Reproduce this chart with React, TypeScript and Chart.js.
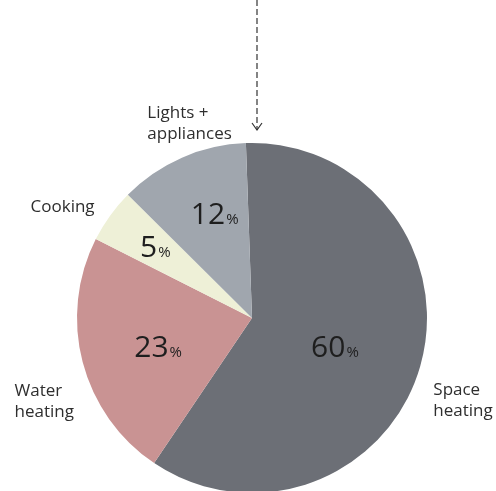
import React, { useEffect, useRef } from "react";
import { Chart, registerables } from "chart.js";

Chart.register(...registerables);

const categories = ["Space heating", "Water heating", "Cooking", "Lights + appliances"];
const shares = [60, 23, 5, 12];
const outerLabelLines = [["Space", "heating"], ["Water", "heating"], ["Cooking"], ["Lights +", "appliances"]];
const sliceColors = ["#6c6f76", "#c99393", "#eef0d7", "#a0a6ae"];

// label placement relative to each slice (radius factor, angle shift in degrees)
const pctRadius = [0.5, 0.56, 0.69, 0.635];
const pctShift = [2.6, -2, 1, 4];
const outerRadiusF = [1.296, 1.28, 1.255, 1.167];
const outerShift = [5.5, -7.4, -5.4, 5.8];

const labelPlugin = {
  id: "sliceLabels",
  afterDraw(chart: any) {
    const ctx = chart.ctx;
    const meta = chart.getDatasetMeta(0);
    ctx.save();
    meta.data.forEach((el: any, i: number) => {
      const p = el.getProps(["x", "y", "startAngle", "endAngle", "outerRadius"], true);
      const mid = (p.startAngle + p.endAngle) / 2;
      // percentage label
      const a1 = mid + (pctShift[i] * Math.PI) / 180;
      const cx = p.x + Math.cos(a1) * p.outerRadius * pctRadius[i];
      const cy = p.y + Math.sin(a1) * p.outerRadius * pctRadius[i];
      const num = String(shares[i]);
      ctx.font = '30px "Open Sans"';
      const wNum = ctx.measureText(num).width;
      ctx.font = '15px "Open Sans"';
      const wPct = ctx.measureText("%").width;
      const total = wNum + wPct + 1;
      const left = cx - total / 2;
      const base = cy + 11;
      ctx.fillStyle = "#1e1e1e";
      ctx.textAlign = "left";
      ctx.textBaseline = "alphabetic";
      ctx.font = '30px "Open Sans"';
      ctx.fillText(num, left, base);
      ctx.font = '15px "Open Sans"';
      ctx.fillText("%", left + wNum + 1, base);

      // outer category label
      const a2 = mid + (outerShift[i] * Math.PI) / 180;
      const ox = p.x + Math.cos(a2) * p.outerRadius * outerRadiusF[i];
      const oy = p.y + Math.sin(a2) * p.outerRadius * outerRadiusF[i];
      ctx.font = '17px "Open Sans"';
      ctx.fillStyle = "#2e2e2e";
      ctx.textBaseline = "middle";
      const lines = outerLabelLines[i];
      const maxW = Math.max(...lines.map((l: string) => ctx.measureText(l).width));
      const lh = 21;
      lines.forEach((l: string, j: number) => {
        const ly = oy + (j - (lines.length - 1) / 2) * lh;
        ctx.fillText(l, ox - maxW / 2, ly);
      });
    });

    // dashed arrow pointing at the top of the pie
    const first = meta.data[0].getProps(["x", "y", "outerRadius"], true);
    const ax = first.x + 5;
    const tipY = first.y - first.outerRadius - 13;
    ctx.strokeStyle = "#333";
    ctx.lineWidth = 1.2;
    ctx.setLineDash([6, 3]);
    ctx.beginPath();
    ctx.moveTo(ax, 0);
    ctx.lineTo(ax, tipY);
    ctx.stroke();
    ctx.setLineDash([]);
    ctx.beginPath();
    ctx.moveTo(ax - 5, tipY - 7);
    ctx.lineTo(ax, tipY);
    ctx.lineTo(ax + 5, tipY - 7);
    ctx.stroke();
    ctx.restore();
  },
};

export default function App() {
  const ref = useRef<HTMLCanvasElement | null>(null);
  useEffect(() => {
    if (!ref.current) return;
    const chart = new Chart(ref.current, {
      type: "pie",
      data: {
        labels: categories,
        datasets: [
          {
            data: shares,
            backgroundColor: sliceColors,
            borderWidth: 0,
          },
        ],
      },
      options: {
        responsive: false,
        animation: false,
        rotation: -2,
        layout: { padding: { left: 77, right: 69, top: 143, bottom: 7 } },
        plugins: { legend: { display: false }, tooltip: { enabled: false } },
      },
      plugins: [labelPlugin],
    });
    return () => chart.destroy();
  }, []);
  return (
    <div
      style={{
        position: "fixed",
        left: 0,
        top: 0,
        width: 496,
        height: 491,
        overflow: "hidden",
        background: "#fff",
      }}
    >
      <canvas ref={ref} width={496} height={500} style={{ display: "block" }} />
    </div>
  );
}
